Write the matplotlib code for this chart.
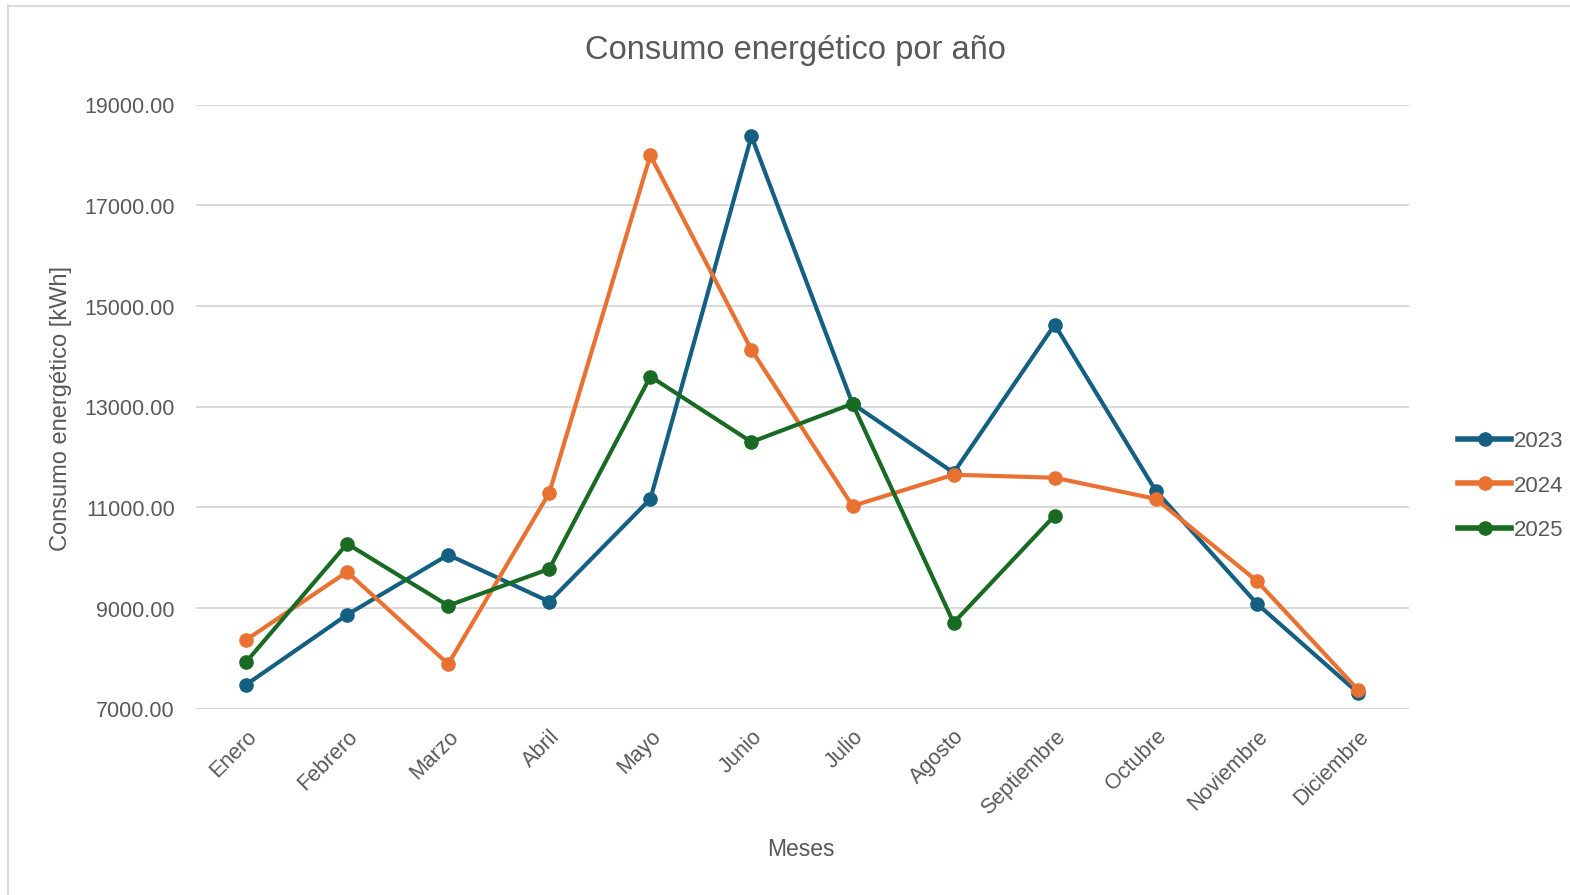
'''
Consumo energético mensual por año (2023-2025), estilo gráfico de Excel.
'''
import numpy as np
import matplotlib.pyplot as plt
from matplotlib.lines import Line2D

meses = ['Enero', 'Febrero', 'Marzo', 'Abril', 'Mayo', 'Junio', 'Julio',
         'Agosto', 'Septiembre', 'Octubre', 'Noviembre', 'Diciembre']

consumo_2023 = [7480, 8870, 10060, 9130, 11170, 18370, 13060, 11690, 14630,
                11330, 9090, 7320]
consumo_2024 = [8370, 9720, 7890, 11290, 17990, 14130, 11030, 11650, 11590,
                11170, 9540, 7380]
consumo_2025 = [7930, 10280, 9050, 9780, 13600, 12300, 13060, 8710, 10840]

y_ticks = [7000, 9000, 11000, 13000, 15000, 17000, 19000]

colores = {'2023': '#156082', '2024': '#E97132', '2025': '#196B24'}
gris_texto = '#595959'

plt.rcParams['font.family'] = ['Liberation Sans', 'DejaVu Sans']

fig = plt.figure(figsize=(15.7, 8.955), dpi=100)
ax = fig.add_axes([195.5 / 1570, 1 - 709 / 895, 1213 / 1570, 604 / 895])

series = [('2023', consumo_2023), ('2024', consumo_2024), ('2025', consumo_2025)]
for nombre, vals in series:
    x = np.arange(len(vals))
    ax.plot(x, vals, color=colores[nombre], lw=3.0, marker='o', ms=9.5,
            solid_capstyle='round', solid_joinstyle='round', label=nombre)

ax.set_xlim(-0.5, len(meses) - 0.5)
ax.set_ylim(7000, 19000)
ax.set_yticks(y_ticks)
ax.set_yticklabels([f'{v:.2f}' for v in y_ticks], fontsize=15.5, color=gris_texto)
ax.set_xticks(np.arange(len(meses)))
ax.set_xticklabels(meses, rotation=45, ha='right', rotation_mode='anchor',
                   fontsize=15.5, color=gris_texto)
ax.tick_params(axis='both', length=0)
ax.tick_params(axis='y', pad=15)
ax.tick_params(axis='x', pad=12)

ax.grid(axis='y', color='#D9D9D9', lw=1.4)
ax.set_axisbelow(True)
for s in ax.spines.values():
    s.set_visible(False)

fig.text(795 / 1570, 1 - 50 / 895, 'Consumo energético por año', ha='center',
         va='center', fontsize=23.5, color=gris_texto)
fig.text(801 / 1570, 1 - 849 / 895, 'Meses', ha='center', va='center',
         fontsize=16.5, color=gris_texto)
fig.text(61 / 1570, 1 - 408 / 895, 'Consumo energético [kWh]', ha='center',
         va='center', rotation=90, fontsize=17, color=gris_texto)

handles = [Line2D([], [], color=colores[n], lw=4, marker='o', ms=9.5)
           for n, _ in series]
ax.legend(handles, [n for n, _ in series], loc='center left',
          bbox_to_anchor=(1447 / 1570, 1 - 486 / 895),
          bbox_transform=fig.transFigure, frameon=False, fontsize=16,
          labelcolor=gris_texto, handlelength=2.4, handletextpad=0.1,
          labelspacing=1.05, borderpad=0)

# borde del gráfico
fig.add_artist(Line2D([8 / 1570, 8 / 1570], [0, 1 - 6 / 895],
                      transform=fig.transFigure, color='#D9D9D9', lw=1.5))
fig.add_artist(Line2D([8 / 1570, 1], [1 - 6 / 895, 1 - 6 / 895],
                      transform=fig.transFigure, color='#D9D9D9', lw=1.5))

fig.savefig('out.png', dpi=100)
